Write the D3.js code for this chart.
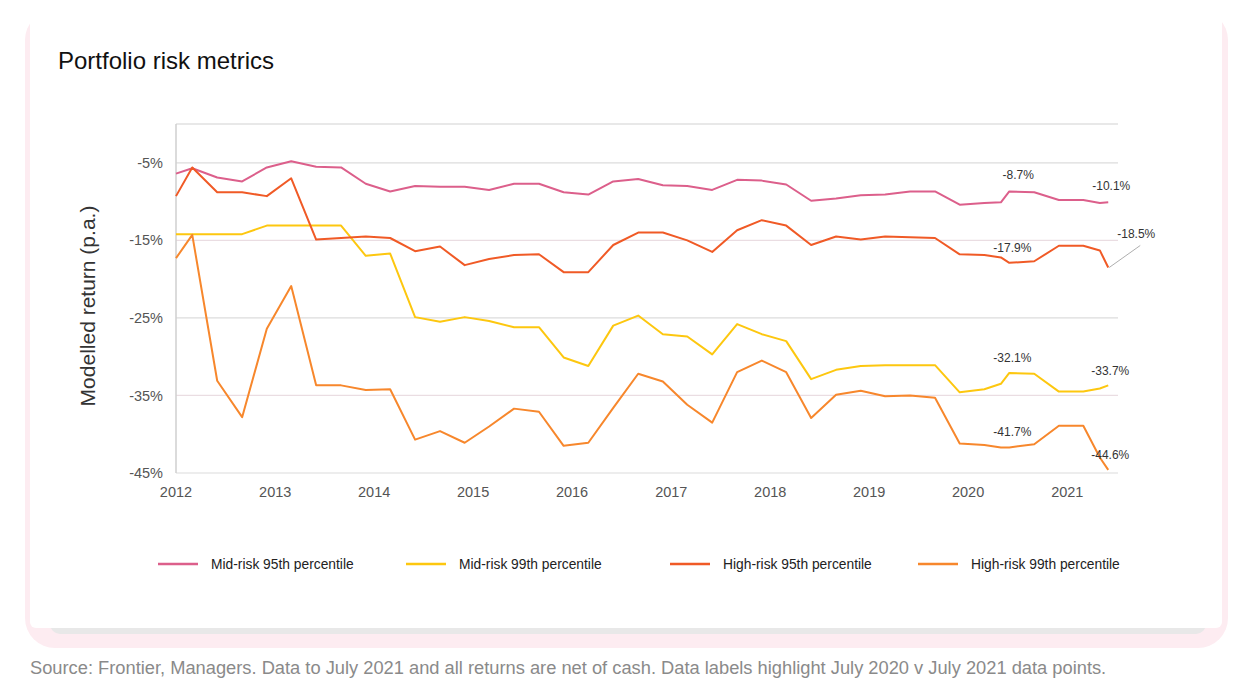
<!DOCTYPE html>
<html>
<head>
<meta charset="utf-8">
<script src="https://cdn.jsdelivr.net/npm/d3@7"></script>
<style>
  body { margin: 0; background: #fff; font-family: "Liberation Sans", Arial, sans-serif; }
  svg text { font-family: "Liberation Sans", Arial, sans-serif; }
</style>
</head>
<body>
<svg id="chart" width="1254" height="696"></svg>
<script>
// --- data (% p.a.) ---
const dates = [
  "2012-01-01","2012-03-01","2012-06-01","2012-09-01","2012-12-01",
  "2013-03-01","2013-06-01","2013-09-01","2013-12-01",
  "2014-03-01","2014-06-01","2014-09-01","2014-12-01",
  "2015-03-01","2015-06-01","2015-09-01","2015-12-01",
  "2016-03-01","2016-06-01","2016-09-01","2016-12-01",
  "2017-03-01","2017-06-01","2017-09-01","2017-12-01",
  "2018-03-01","2018-06-01","2018-09-01","2018-12-01",
  "2019-03-01","2019-06-01","2019-09-01","2019-12-01",
  "2020-03-01","2020-05-01","2020-06-01","2020-09-01","2020-12-01",
  "2021-03-01","2021-05-01","2021-06-01"
];
const midRisk95 = [-6.4,-5.7,-6.9,-7.4,-5.6,-4.8,-5.5,-5.6,-7.7,-8.7,-8.0,-8.1,-8.1,-8.5,-7.7,-7.7,-8.8,-9.1,-7.4,-7.1,-7.9,-8.0,-8.5,-7.2,-7.3,-7.8,-9.9,-9.6,-9.2,-9.1,-8.7,-8.7,-10.4,-10.2,-10.1,-8.7,-8.8,-9.8,-9.8,-10.2,-10.1];
const midRisk99 = [-14.2,-14.2,-14.2,-14.2,-13.1,-13.1,-13.1,-13.1,-17.0,-16.7,-24.9,-25.5,-24.9,-25.4,-26.2,-26.2,-30.1,-31.2,-26.0,-24.7,-27.1,-27.4,-29.7,-25.8,-27.1,-28.0,-32.9,-31.7,-31.2,-31.1,-31.1,-31.1,-34.6,-34.2,-33.5,-32.1,-32.2,-34.5,-34.5,-34.1,-33.7];
const highRisk95 = [-9.3,-5.6,-8.8,-8.8,-9.3,-7.0,-14.9,-14.7,-14.5,-14.7,-16.4,-15.8,-18.2,-17.4,-16.9,-16.8,-19.1,-19.1,-15.6,-14.0,-14.0,-15.0,-16.5,-13.7,-12.4,-13.1,-15.6,-14.5,-14.9,-14.5,-14.6,-14.7,-16.8,-16.9,-17.2,-17.9,-17.7,-15.7,-15.7,-16.3,-18.5];
const highRisk99 = [-17.3,-14.3,-33.1,-37.8,-26.4,-20.9,-33.7,-33.7,-34.3,-34.2,-40.7,-39.6,-41.1,-39.0,-36.7,-37.1,-41.5,-41.1,-36.6,-32.2,-33.2,-36.2,-38.5,-32.0,-30.5,-32.0,-37.9,-34.9,-34.4,-35.1,-35.0,-35.3,-41.2,-41.4,-41.7,-41.7,-41.3,-38.9,-38.9,-43.0,-44.6];
const seriesNames = ["Mid-risk 95th percentile","Mid-risk 99th percentile","High-risk 95th percentile","High-risk 99th percentile"];
const yTicks = [-5, -15, -25, -35, -45];
const labelIdx = [35, 40]; // July 2020 v July 2021 points

const colors = ["#dc5f8b", "#fdc70f", "#f05a26", "#f7872c"];
const values = [midRisk95, midRisk99, highRisk95, highRisk99];
const parse = d3.timeParse("%Y-%m-%d");
const series = values.map((vals, i) => ({
  name: seriesNames[i], color: colors[i],
  pts: vals.map((v, j) => ({ date: parse(dates[j]), value: v }))
}));

const svg = d3.select("#chart");

// --- card background ---
svg.append("rect").attr("x", 25).attr("y", 10).attr("width", 1203).attr("height", 638)
   .attr("rx", 30).attr("fill", "#fdecf1");
svg.append("rect").attr("x", 50).attr("y", 600).attr("width", 1156).attr("height", 34)
   .attr("rx", 10).attr("fill", "#e8e8e8");
svg.append("rect").attr("x", 30).attr("y", 0).attr("width", 1192).attr("height", 628)
   .attr("rx", 6).attr("fill", "#fff");

// title
svg.append("text").attr("x", 58).attr("y", 69)
   .attr("font-size", 24).attr("fill", "#111").text("Portfolio risk metrics");

// --- scales ---
const x = d3.scaleTime().domain([parse("2012-01-01"), parse("2021-07-07")]).range([176, 1118]);
const y = d3.scaleLinear().domain([0, -45]).range([124, 473]);

// gridlines
svg.append("line").attr("x1", 176).attr("x2", 1118).attr("y1", y(0)).attr("y2", y(0))
   .attr("stroke", "#d2d2d2").attr("stroke-width", 1.2);
svg.selectAll("line.grid")
  .data(yTicks)
  .join("line")
    .attr("class", "grid")
    .attr("x1", 176).attr("x2", 1118)
    .attr("y1", d => y(d)).attr("y2", d => y(d))
    .attr("stroke", (d, i) => i % 2 ? "#eadde2" : "#dcdcdc")
    .attr("stroke-width", 1.2);
svg.append("line").attr("x1", 176).attr("x2", 176).attr("y1", y(0)).attr("y2", y(-45))
   .attr("stroke", "#cfcfcf").attr("stroke-width", 1.5);

// y tick labels
svg.selectAll("text.ytick")
  .data(yTicks)
  .join("text")
    .attr("class", "ytick")
    .attr("x", 163).attr("y", d => y(d)).attr("dy", "0.35em")
    .attr("text-anchor", "end").attr("font-size", 14.5).attr("fill", "#555")
    .text(d => d + "%");

// x tick labels
svg.selectAll("text.xtick")
  .data(x.ticks(d3.timeYear.every(1)))
  .join("text")
    .attr("class", "xtick")
    .attr("x", d => x(d)).attr("y", 497)
    .attr("text-anchor", "middle").attr("font-size", 14.5).attr("fill", "#555")
    .text(d3.timeFormat("%Y"));

// y axis title
svg.append("text")
   .attr("transform", "translate(95,306) rotate(-90)")
   .attr("text-anchor", "middle").attr("font-size", 21).attr("fill", "#333")
   .text("Modelled return (p.a.)");

// --- lines ---
const line = d3.line().x(d => x(d.date)).y(d => y(d.value));
svg.selectAll("path.series")
  .data(series)
  .join("path")
    .attr("class", "series")
    .attr("fill", "none")
    .attr("stroke", d => d.color)
    .attr("stroke-width", 2)
    .attr("stroke-linejoin", "round")
    .attr("d", d => line(d.pts));

// --- data labels ---
const fmt = v => v.toFixed(1) + "%";
// per series: [July 2020 offset, July 2021 offset]
const labelOffsets = [
  [[9, -12], [3, -12]],
  [[3, -11], [2, -10]],
  [[3, -11], [28, -29]],
  [[3, -11], [2, -11]]
];
series.forEach((s, si) => {
  labelIdx.forEach((pi, k) => {
    const p = s.pts[pi];
    const [dx, dy] = labelOffsets[si][k];
    if (si === 2 && k === 1) {
      svg.append("line")
         .attr("x1", x(p.date) + 1).attr("y1", y(p.value))
         .attr("x2", x(p.date) + 32).attr("y2", y(p.value) - 22)
         .attr("stroke", "#999").attr("stroke-width", 0.8);
    }
    svg.append("text")
       .attr("x", x(p.date) + dx).attr("y", y(p.value) + dy)
       .attr("text-anchor", "middle").attr("font-size", 12).attr("fill", "#333")
       .text(fmt(p.value));
  });
});

// --- legend ---
const legendX = [158, 406, 670, 918];
const lg = svg.selectAll("g.legend")
  .data(series)
  .join("g")
    .attr("class", "legend")
    .attr("transform", (d, i) => `translate(${legendX[i]},564)`);
lg.append("line").attr("x1", 0).attr("x2", 40)
  .attr("stroke", d => d.color).attr("stroke-width", 2.5);
lg.append("text").attr("x", 53).attr("dy", "0.35em")
  .attr("font-size", 13.8).attr("fill", "#222").text(d => d.name);

// source note
svg.append("text").attr("x", 30).attr("y", 674)
   .attr("font-size", 18.3).attr("fill", "#8a8a8a")
   .text("Source: Frontier, Managers. Data to July 2021 and all returns are net of cash. Data labels highlight July 2020 v July 2021 data points.");
</script>
</body>
</html>
